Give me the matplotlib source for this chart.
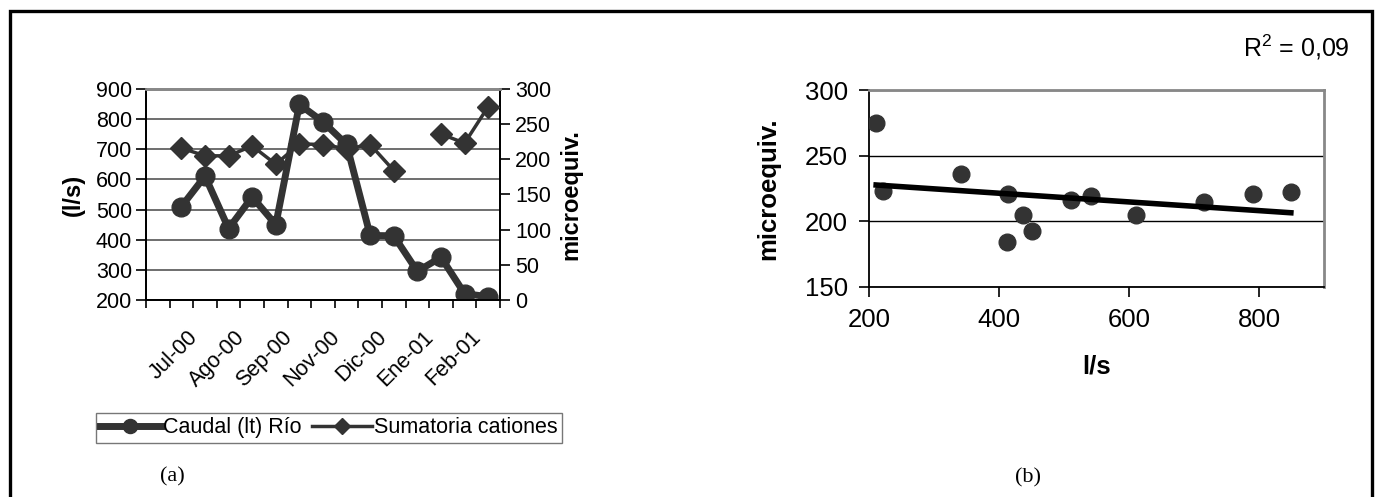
import numpy as np
import matplotlib
matplotlib.use("Agg")
import matplotlib.pyplot as plt
from matplotlib.patches import Rectangle
from matplotlib.transforms import ScaledTranslation

plt.rcParams['font.family'] = ['Liberation Sans', 'DejaVu Sans']
plt.rcParams['mathtext.fontset'] = 'custom'
plt.rcParams['mathtext.rm'] = 'Liberation Sans'

# ---- data ----
meses = ["", "Jul-00", "", "Ago-00", "", "Sep-00", "", "Nov-00", "",
         "Dic-00", "", "Ene-01", "", "Feb-01", ""]
caudal = [np.nan, 510, 611, 437, 542, 450, 849, 791, 716, 414, 413, 295, 342, 221, 211]
cationes = [np.nan, 216, 205, 205, 219, 193, 222, 221, 215, 221, 184, np.nan, 236, 223, 275]
r2_text = "R$^{2}$ = 0,09"

W, H = 1377, 497
fig = plt.figure(figsize=(W / 100, H / 100), dpi=100)
dark = '#333333'

def box(x0, y0, x1, y1):
    # pixel box -> figure fraction
    return [x0 / W, 1 - y1 / H, (x1 - x0) / W, (y1 - y0) / H]

# ---------------- (a) time series, two y axes ----------------
ax = fig.add_axes(box(146, 89, 500, 300))
ax2 = ax.twinx()
xs = np.arange(len(meses))

l1, = ax.plot(xs, caudal, '-o', color=dark, lw=5, ms=13.5, label='Caudal (lt) Río', zorder=3)
l2, = ax2.plot(xs, cationes, '-D', color=dark, lw=2.5, ms=11.5, label='Sumatoria cationes', zorder=3)

ax.set_xlim(-0.5, len(meses) - 0.5)
ax.set_ylim(200, 900)
ax.set_yticks(np.arange(200, 901, 100))
ax2.set_ylim(0, 300)
ax2.set_yticks(np.arange(0, 301, 50))
ax.yaxis.grid(True, color='#555555', lw=1.2)
ax.set_axisbelow(True)

ax.set_xticks(xs[1::2])
ax.set_xticklabels(meses[1::2], rotation=45, ha='right', va='top', rotation_mode='anchor')
ax.set_xticks(np.arange(-0.5, len(meses)), minor=True)
ax.tick_params(axis='x', which='major', length=0, pad=19, labelsize=15.5)
ax.tick_params(axis='x', which='minor', length=6, width=1.2, direction='out')
ax.tick_params(axis='y', length=7, width=1.2, labelsize=15.5, pad=3)
ax2.tick_params(axis='y', length=7, width=1.2, labelsize=15.5, pad=4)
off = ScaledTranslation(6 / 100, 0, fig.dpi_scale_trans)
for lab in ax.get_xticklabels():
    lab.set_transform(lab.get_transform() + off)

for a in (ax, ax2):
    a.spines['top'].set_color('#888888')
    a.spines['top'].set_linewidth(2)
    a.spines['left'].set_linewidth(1.3)
    a.spines['right'].set_linewidth(1.3)
    a.spines['bottom'].set_linewidth(1.3)

ax.set_ylabel('(l/s)', fontsize=17, fontweight='bold', labelpad=8)
ax2.set_ylabel('microequiv.', fontsize=17, fontweight='bold', labelpad=6)

fig.legend(handles=[l1, l2], loc='upper left', bbox_to_anchor=(96 / W, 1 - 413 / H),
           ncol=2, fontsize=15.5, frameon=True, fancybox=False, edgecolor='#555555',
           handlelength=2.8, handletextpad=0.1, columnspacing=0.5, borderpad=0.2,
           borderaxespad=0, markerscale=0.75)

fig.text(172 / W, 1 - 477 / H, '(a)', family='Liberation Serif', fontsize=16,
         ha='center', va='center')

# ---------------- (b) scatter with linear fit ----------------
bx = fig.add_axes(box(869, 90, 1324, 287))
q = np.array(caudal, dtype=float)
c = np.array(cationes, dtype=float)
ok = ~np.isnan(q) & ~np.isnan(c)
bx.plot(q[ok], c[ok], 'o', color=dark, ms=12, zorder=3)
m, b = np.polyfit(q[ok], c[ok], 1)
xf = np.array([q[ok].min(), q[ok].max()])
bx.plot(xf, m * xf + b, '-', color='black', lw=4, zorder=4)

bx.set_xlim(200, 900)
bx.set_ylim(150, 300)
bx.set_xticks([200, 400, 600, 800])
bx.set_yticks([150, 200, 250, 300])
bx.yaxis.grid(True, color='black', lw=1)
bx.set_axisbelow(True)
bx.tick_params(length=7, width=1.2, labelsize=18.5, pad=8)
for s in ('top', 'right'):
    bx.spines[s].set_color('#888888')
    bx.spines[s].set_linewidth(2)
for s in ('left', 'bottom'):
    bx.spines[s].set_linewidth(1.3)
bx.set_xlabel('l/s', fontsize=18.5, fontweight='bold', labelpad=16)
bx.set_ylabel('microequiv.', fontsize=18.5, fontweight='bold', labelpad=18)

fig.text(1350 / W, 1 - 47 / H, r2_text, fontsize=18, ha='right', va='center')
fig.text(1028 / W, 1 - 478 / H, '(b)', family='Liberation Serif', fontsize=16,
         ha='center', va='center')

# outer frame (bottom edge falls outside the image)
fig.add_artist(Rectangle((10 / W, -0.05), 1362 / W, 1.05 - 11 / H,
                         transform=fig.transFigure, fill=False, lw=2.4, ec='black'))

fig.savefig('out.png', dpi=100, facecolor='white')
